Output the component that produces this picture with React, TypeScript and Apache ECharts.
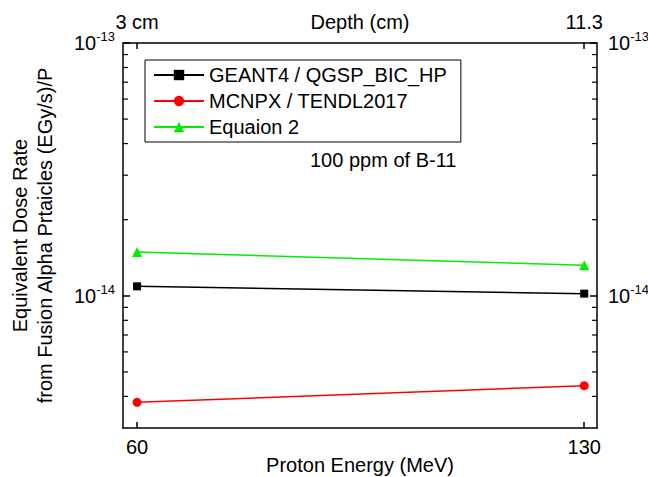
import React, { useEffect, useRef } from "react";
import * as echarts from "echarts";

const energies = [60, 130];
const geant4 = [1.09e-14, 1.02e-14];
const mcnpx = [3.79e-15, 4.41e-15];
const equation2 = [1.49e-14, 1.32e-14];
const bottomTicks = [60, 130];
const topTickLabels = ["3 cm", "11.3"];
const minorTickValues = [
  4e-15, 5e-15, 6e-15, 7e-15, 8e-15, 9e-15,
  2e-14, 3e-14, 4e-14, 5e-14, 6e-14, 7e-14, 8e-14, 9e-14,
];
const seriesNames = ["GEANT4 / QGSP_BIC_HP", "MCNPX / TENDL2017", "Equaion 2"];

const FONT = "'Liberation Sans', Arial, sans-serif";

function powLabel(v: number) {
  const l = Math.log10(v);
  const e = Math.round(l);
  if (Math.abs(l - e) > 1e-6) return "";
  return `{b|10}{s|${e}}`;
}

const richPow = {
  b: { fontSize: 20, fontFamily: FONT, color: "#000", lineHeight: 26 },
  s: { fontSize: 13, fontFamily: FONT, color: "#000", lineHeight: 13, verticalAlign: "top" as const },
};

export default function App() {
  const ref = useRef<HTMLDivElement>(null);
  useEffect(() => {
    if (!ref.current) return;
    const chart = echarts.init(ref.current, null, { renderer: "svg" });
    const xMin = 57.8;
    const xMax = 132;
    const yMin = 3e-15;
    const yMax = 1e-13;
    const axisLine = { show: true, lineStyle: { color: "#000", width: 1.5 } };
    const option: any = {
      animation: false,
      backgroundColor: "#fff",
      textStyle: { fontFamily: FONT },
      grid: { left: 123, right: 51, top: 43, bottom: 49, containLabel: false, outerBoundsMode: "none" },
      legend: {
        data: seriesNames,
        orient: "vertical",
        left: 145,
        top: 60,
        padding: [5, 14, 5, 8],
        itemGap: 6,
        itemWidth: 50,
        itemHeight: 13,
        borderColor: "#000",
        borderWidth: 1,
        borderRadius: 0,
        textStyle: { fontSize: 20, color: "#000", fontFamily: FONT },
      },
      graphic: [
        {
          type: "text",
          left: 310,
          top: 150,
          style: { text: "100 ppm of B-11", fontSize: 20, fontFamily: FONT, fill: "#000" },
        },
      ],
      xAxis: [
        {
          type: "value",
          position: "bottom",
          min: xMin,
          max: xMax,
          name: "Proton Energy (MeV)",
          nameLocation: "middle",
          nameGap: 27,
          nameMoveOverlap: false,
          nameTextStyle: { fontSize: 20, color: "#000", fontFamily: FONT },
          axisLine,
          axisTick: { show: true, inside: true, length: 6, customValues: bottomTicks, lineStyle: { color: "#000", width: 1.5 } },
          axisLabel: { customValues: bottomTicks, fontSize: 20, color: "#000", margin: 9, fontFamily: FONT },
          splitLine: { show: false },
        },
        {
          type: "value",
          position: "top",
          min: xMin,
          max: xMax,
          name: "Depth (cm)",
          nameLocation: "middle",
          nameGap: 11,
          nameMoveOverlap: false,
          nameTextStyle: { fontSize: 20, color: "#000", fontFamily: FONT },
          axisLine,
          axisTick: { show: true, inside: true, length: 6, customValues: bottomTicks, lineStyle: { color: "#000", width: 1.5 } },
          axisLabel: {
            customValues: bottomTicks,
            fontSize: 20,
            color: "#000",
            margin: 11,
            fontFamily: FONT,
            formatter: (v: number) => {
              const i = bottomTicks.indexOf(Math.round(v));
              return i >= 0 ? topTickLabels[i] : "";
            },
          },
          splitLine: { show: false },
        },
      ],
      yAxis: [
        {
          type: "log",
          logBase: 10,
          position: "left",
          min: yMin,
          max: yMax,
          name: "Equivalent Dose Rate\nfrom Fusion Alpha Prtaicles (EGy/s)/P",
          nameLocation: "middle",
          nameRotate: 90,
          nameGap: 66,
          nameMoveOverlap: false,
          nameTextStyle: { fontSize: 20, color: "#000", fontFamily: FONT, lineHeight: 25 },
          axisLine,
          axisTick: { show: true, inside: true, length: 7, lineStyle: { color: "#000", width: 1.5 } },
          axisLabel: { showMinLabel: false, margin: 8, formatter: powLabel, rich: richPow },
          splitLine: { show: false },
          minorTick: { show: false },
        },
        {
          type: "log",
          logBase: 10,
          position: "right",
          min: yMin,
          max: yMax,
          axisLine,
          axisTick: { show: true, inside: true, length: 7, lineStyle: { color: "#000", width: 1.5 } },
          axisLabel: { showMinLabel: false, margin: 11, formatter: powLabel, rich: richPow },
          splitLine: { show: false },
        },
      ],
      series: [
        {
          type: "custom",
          name: "minorTicks",
          silent: true,
          xAxisIndex: 0,
          yAxisIndex: 0,
          data: minorTickValues.map((v) => [energies[0], v]),
          renderItem: (params: any, api: any) => {
            const y = api.coord([api.value(0), api.value(1)])[1];
            const cs = params.coordSys;
            return {
              type: "group",
              children: [
                { type: "line", shape: { x1: cs.x, y1: y, x2: cs.x + 5, y2: y }, style: { stroke: "#000", lineWidth: 1.2 } },
                { type: "line", shape: { x1: cs.x + cs.width, y1: y, x2: cs.x + cs.width - 5, y2: y }, style: { stroke: "#000", lineWidth: 1.2 } },
              ],
            };
          },
        },
        {
          type: "line",
          name: seriesNames[0],
          data: energies.map((e, i) => [e, geant4[i]]),
          symbol: "rect",
          symbolSize: 8,
          lineStyle: { color: "#000", width: 1.5 },
          itemStyle: { color: "#000" },
        },
        {
          type: "line",
          name: seriesNames[1],
          data: energies.map((e, i) => [e, mcnpx[i]]),
          symbol: "circle",
          symbolSize: 9,
          lineStyle: { color: "#ff0000", width: 1.5 },
          itemStyle: { color: "#ff0000" },
        },
        {
          type: "line",
          name: seriesNames[2],
          data: energies.map((e, i) => [e, equation2[i]]),
          symbol: "triangle",
          symbolSize: 10,
          lineStyle: { color: "#00ee00", width: 1.5 },
          itemStyle: { color: "#00ee00" },
        },
      ],
    };
    chart.setOption(option);
    return () => chart.dispose();
  }, []);
  return (
    <div
      ref={ref}
      style={{ position: "absolute", left: 0, top: 0, width: 648, height: 477 }}
    />
  );
}
